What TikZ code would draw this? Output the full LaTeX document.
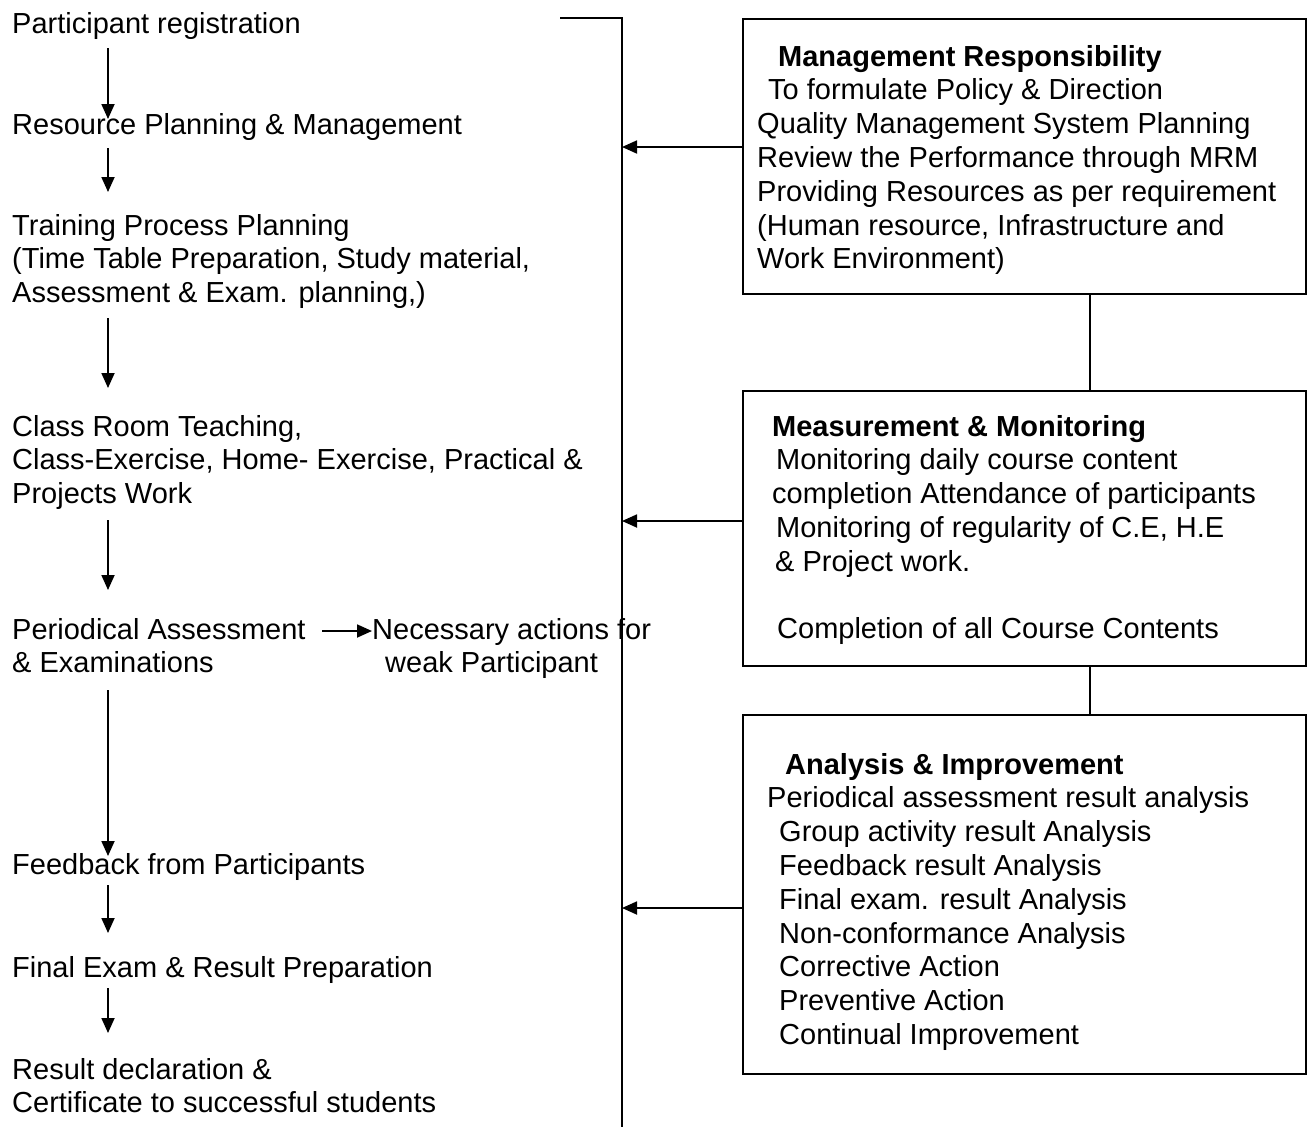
\documentclass[tikz,border=0pt]{standalone}
\usepackage{fontspec}
\setmainfont{Liberation Sans}
\usetikzlibrary{arrows.meta}
\tikzset{
  txt/.style={anchor=base west, inner sep=0pt, align=left, font=\fontsize{29}{33.8}\selectfont},
  box/.style={draw, line width=1.8pt, anchor=north west, inner sep=0pt},
  conn/.style={line width=1.8pt},
  arr/.style={line width=1.8pt, -{Triangle[length=15pt,width=13pt]}}
}
\begin{document}
\begin{tikzpicture}[x=1pt,y=-1pt]
\useasboundingbox (0,0) rectangle (1308,1127);
% left column texts (anchor = baseline of last line)
\node[txt] (L1) at (12,33) {Participant registration};
\node[txt] (L2) at (12,134) {Resource Planning \& Management};
\node[txt] (L3) at (12,302.6) {Training Process Planning\\(Time Table Preparation, Study material,\\Assessment \& Exam. planning,)};
\node[txt] (L4) at (12,503.6) {Class Room Teaching,\\Class-Exercise, Home- Exercise, Practical \&\\Projects Work};
\node[txt] (L5) at (12,672.8) {Periodical Assessment\\\& Examinations};
\node[txt] (L5b) at (372,672.8) {Necessary actions for\\\hspace*{13pt}weak Participant};
\node[txt] (L6) at (12,874) {Feedback from Participants};
\node[txt] (L7) at (12,977) {Final Exam \& Result Preparation};
\node[txt] (L8) at (12,1112.8) {Result declaration \&\\Certificate to successful students};
% boxes
\node[box, minimum width=563pt, minimum height=275pt] (B1) at (742,18) {};
\node[box, minimum width=563pt, minimum height=275pt] (B2) at (742,390) {};
\node[box, minimum width=563pt, minimum height=359pt] (B3) at (742,714) {};
\node[txt] (T1) at (757,268.8) {\hspace*{21pt}\textbf{Management Responsibility}\\\hspace*{11pt}To formulate Policy \& Direction\\Quality Management System Planning\\Review the Performance through MRM\\Providing Resources as per requirement\\(Human resource, Infrastructure and\\Work Environment)};
\node[txt] (T2) at (772,638.8) {\textbf{Measurement \& Monitoring}\\\hspace*{4pt}Monitoring daily course content\\completion Attendance of participants\\\hspace*{4pt}Monitoring of regularity of C.E, H.E\\\hspace*{3pt}\& Project work.\\[33.8pt]\hspace*{5pt}Completion of all Course Contents};
\node[txt] (T3) at (767,1044.4) {\hspace*{18pt}\textbf{Analysis \& Improvement}\\Periodical assessment result analysis\\\hspace*{12pt}Group activity result Analysis\\\hspace*{12pt}Feedback result Analysis\\\hspace*{12pt}Final exam. result Analysis\\\hspace*{12pt}Non-conformance Analysis\\\hspace*{12pt}Corrective Action\\\hspace*{12pt}Preventive Action\\\hspace*{12pt}Continual Improvement};
% vertical bus
\coordinate (vs) at (560,18);
\coordinate (vc) at (622,18);
\coordinate (ve) at (622,1127);
\draw[conn] (vs) -- (vc) -- (ve);
% box links
\draw[conn] (B1.south -| 1090,0) -- (B2.north -| 1090,0);
\draw[conn] (B2.south -| 1090,0) -- (B3.north -| 1090,0);
% feedback arrows
\coordinate (f1) at (742,147);
\coordinate (f2) at (742,521);
\coordinate (f3) at (742,908);
\draw[arr] (f1) -- (f1 -| vc);
\draw[arr] (f2) -- (f2 -| vc);
\draw[arr] (f3) -- (f3 -| vc);
% flow arrows
\coordinate (a1s) at (108,48);  \coordinate (a1e) at (108,119);
\coordinate (a2s) at (108,148); \coordinate (a2e) at (108,192);
\coordinate (a3s) at (108,318); \coordinate (a3e) at (108,388);
\coordinate (a4s) at (108,520); \coordinate (a4e) at (108,590);
\coordinate (a5s) at (108,690); \coordinate (a5e) at (108,856);
\coordinate (a6s) at (108,885); \coordinate (a6e) at (108,933);
\coordinate (a7s) at (108,988); \coordinate (a7e) at (108,1033);
\coordinate (hs) at (322,631);  \coordinate (he) at (372,631);
\draw[arr] (a1s) -- (a1e);
\draw[arr] (a2s) -- (a2e);
\draw[arr] (a3s) -- (a3e);
\draw[arr] (a4s) -- (a4e);
\draw[arr] (a5s) -- (a5e);
\draw[arr] (a6s) -- (a6e);
\draw[arr] (a7s) -- (a7e);
\draw[arr] (hs) -- (he);
\end{tikzpicture}
\end{document}
